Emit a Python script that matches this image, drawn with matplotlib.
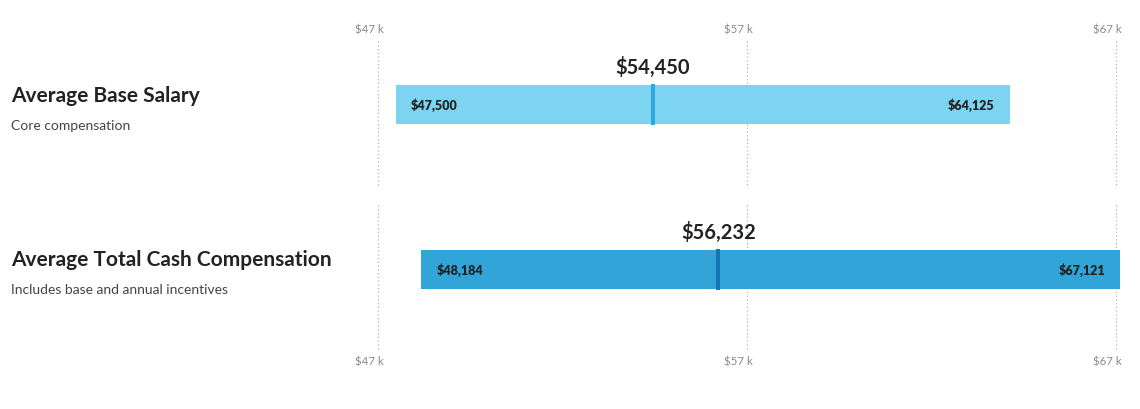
import matplotlib
matplotlib.use("Agg")
import matplotlib.pyplot as plt

# ---- data ----
categories = ["Average Base Salary", "Average Total Cash Compensation"]
subtitles = ["Core compensation", "Includes base and annual incentives"]
mins = [47500, 48184]
medians = [54450, 56232]
maxs = [64125, 67121]
tick_values = [47000, 57000, 67000]
tick_labels = ["$47 k", "$57 k", "$67 k"]

bar_colors = ["#7dd4f1", "#31a5d8"]
mark_colors = ["#2fa6dd", "#1676b3"]

FONT = "Lato"
W, H = 1140, 410
DPI = 100
fig = plt.figure(figsize=(W / DPI, H / DPI), dpi=DPI)
fig.patch.set_facecolor("white")

# axes spans the whole figure; x scale chosen so the first tick sits at px ~377.7
# and the last tick at px ~1115.7
x0_px, x1_px = 377.7, 1115.7
k = (tick_values[-1] - tick_values[0]) / (x1_px - x0_px)
ax = fig.add_axes([0, 0, 1, 1])
ax.set_xlim(tick_values[0] - x0_px * k, tick_values[-1] + (W - x1_px) * k)
ax.set_ylim(H, 0)
ax.axis("off")

px = 72.0 / DPI  # points per pixel

row_centers = [105.5, 270.5]
bar_h = 39
grid_spans = [(42, 186), (206, 352)]

# gridlines
for (g0, g1) in grid_spans:
    ax.vlines(tick_values, g0, g1, colors="#b5b5b5", linestyles=(0, (1, 2)), lw=0.9, zorder=0)

# tick labels top and bottom
for tv, tl in zip(tick_values, tick_labels):
    for yy in (30, 362):
        ax.annotate(tl, (tv, yy), xytext=(6 * px, 0), textcoords="offset points",
                    ha="right", va="center", fontsize=8.3, color="#8a8a8a", family=FONT)

for i, cat in enumerate(categories):
    yc = row_centers[i]
    ax.barh(yc, maxs[i] - mins[i], left=mins[i], height=bar_h,
            color=bar_colors[i], zorder=2)
    ax.plot([medians[i], medians[i]], [yc - bar_h / 2 - 1, yc + bar_h / 2 + 1],
            color=mark_colors[i], lw=4 * px, solid_capstyle="butt", zorder=3)
    ax.annotate(f"${medians[i]:,}", (medians[i], yc - bar_h / 2 - 19),
                ha="center", va="center", fontsize=14.5, fontweight="bold",
                color="#222222", family=FONT)
    ax.annotate(f"${mins[i]:,}", (mins[i], yc), xytext=(15 * px, 0),
                textcoords="offset points", ha="left", va="center",
                fontsize=9, fontweight="heavy", color="#222222", family=FONT, zorder=4)
    ax.annotate(f"${maxs[i]:,}", (maxs[i], yc), xytext=(-15 * px, 0),
                textcoords="offset points", ha="right", va="center",
                fontsize=9, fontweight="heavy", color="#222222", family=FONT, zorder=4)
    # left titles
    fig.text(11 / W, 1 - (yc - 10) / H, cat, ha="left", va="center",
             fontsize=15, fontweight="bold", color="#222222", family=FONT)
    fig.text(11 / W, 1 - (yc + 20) / H, subtitles[i], ha="left", va="center",
             fontsize=10, color="#444444", family=FONT)

fig.savefig("out.png", dpi=DPI, facecolor="white")
